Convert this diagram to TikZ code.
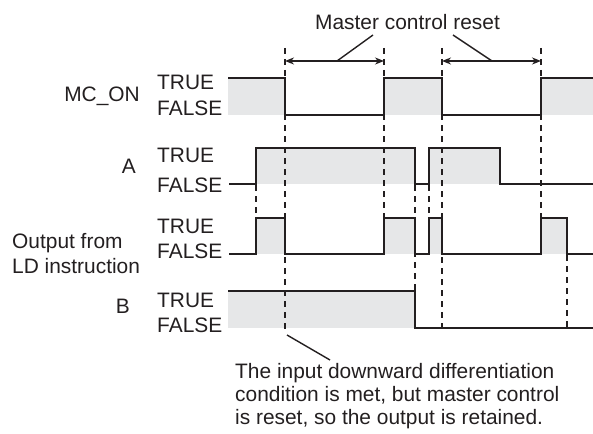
\documentclass[tikz,border=0pt]{standalone}
\usepackage{fontspec}
\setmainfont{Liberation Sans}
\usetikzlibrary{arrows.meta}
\definecolor{bandgray}{RGB}{230,231,232}
\definecolor{ink}{RGB}{35,31,32}
\begin{document}
\begin{tikzpicture}[x=1pt,y=-1pt,
  lbl/.style={inner sep=0pt,font=\fontsize{20.9}{23}\selectfont,text=ink},
  wave/.style={draw=ink,line width=2pt,line join=miter},
  guide/.style={draw=ink,line width=1.9pt,dash pattern=on 6pt off 5pt},
  dim/.style={draw=ink,line width=1.6pt,{Stealth[length=9pt,width=7pt]}-{Stealth[length=9pt,width=7pt]}},
  leader/.style={draw=ink,line width=1.4pt},
  band/.style={fill=bandgray}]
\useasboundingbox (0,0) rectangle (593,433);

% ---- gray fills (TRUE intervals)
\path[band] (228,78) rectangle (285,115);
\path[band] (384,78) rectangle (442,115);
\path[band] (541,78) rectangle (593,115);
\path[band] (256,148) rectangle (415,184);
\path[band] (429,148) rectangle (500,184);
\path[band] (256,218) rectangle (285,254);
\path[band] (384,218) rectangle (415,254);
\path[band] (429,218) rectangle (442,254);
\path[band] (541,218) rectangle (567,254);
\path[band] (228,291) rectangle (415,328);

% ---- dashed guides
\draw[guide] (285,48) -- (285,330);
\draw[guide] (384,48) -- (384,218);
\draw[guide] (442,48) -- (442,330);
\draw[guide] (541,48) -- (541,218);
\draw[guide] (256,185) -- (256,218);
\draw[guide] (415,185) -- (415,291);
\draw[guide] (429,185) -- (429,218);
\draw[guide] (567,255) -- (567,330);

% ---- waveforms
\draw[wave] (228,78) -- (285,78) -- (285,115) -- (384,115) -- (384,78) -- (442,78) -- (442,115) -- (541,115) -- (541,78) -- (593,78);
\draw[wave] (229,184) -- (256,184) -- (256,148) -- (415,148) -- (415,184) -- (429,184) -- (429,148) -- (500,148) -- (500,184) -- (593,184);
\draw[wave] (229,254) -- (256,254) -- (256,218) -- (285,218) -- (285,254) -- (384,254) -- (384,218) -- (415,218) -- (415,254) -- (429,254) -- (429,218) -- (442,218) -- (442,254) -- (541,254) -- (541,218) -- (567,218) -- (567,254) -- (593,254);
\draw[wave] (228,291) -- (415,291) -- (415,328) -- (593,328);

% ---- reset interval arrows
\coordinate (r1a) at (285,61);
\coordinate (r1b) at (384,61);
\coordinate (r2a) at (442,61);
\coordinate (r2b) at (541,61);
\draw[dim] (r1a) -- (r1b);
\draw[dim] (r2a) -- (r2b);
\node[lbl,anchor=base west] (mcr) at (315,30) {Master control reset};
\coordinate (m1) at (337,61);
\coordinate (m2) at (492,61);
\coordinate (t1) at (373,35);
\coordinate (t2) at (453,35);
\draw[leader] (m1) -- (t1);
\draw[leader] (m2) -- (t2);

% ---- row labels
\node[lbl,anchor=base east] (mc) at (140,102) {MC\_ON};
\node[lbl,anchor=base west] (mct) at (157,90) {TRUE};
\node[lbl,anchor=base west] (mcf) at (157,115) {FALSE};

\node[lbl,anchor=base east] (a) at (136,173) {A};
\node[lbl,anchor=base west] (at) at (157,162) {TRUE};
\node[lbl,anchor=base west] (af) at (157,192) {FALSE};

\node[lbl,anchor=base west] (o1) at (12,248) {Output from};
\node[lbl,anchor=base west] (o2) at (12,273) {LD instruction};
\node[lbl,anchor=base west] (ot) at (157,233) {TRUE};
\node[lbl,anchor=base west] (of) at (157,258) {FALSE};

\node[lbl,anchor=base east] (b) at (130,313) {B};
\node[lbl,anchor=base west] (bt) at (157,307) {TRUE};
\node[lbl,anchor=base west] (bf) at (157,332) {FALSE};

% ---- annotation
\node[lbl,anchor=base west] (n1) at (235,378) {The input downward differentiation};
\node[lbl,anchor=base west] (n2) at (235,401) {condition is met, but master control};
\node[lbl,anchor=base west] (n3) at (235,424) {is reset, so the output is retained.};
\coordinate (p1) at (287,335);
\coordinate (p2) at (330,360);
\draw[leader] (p1) -- (p2);
\end{tikzpicture}
\end{document}
